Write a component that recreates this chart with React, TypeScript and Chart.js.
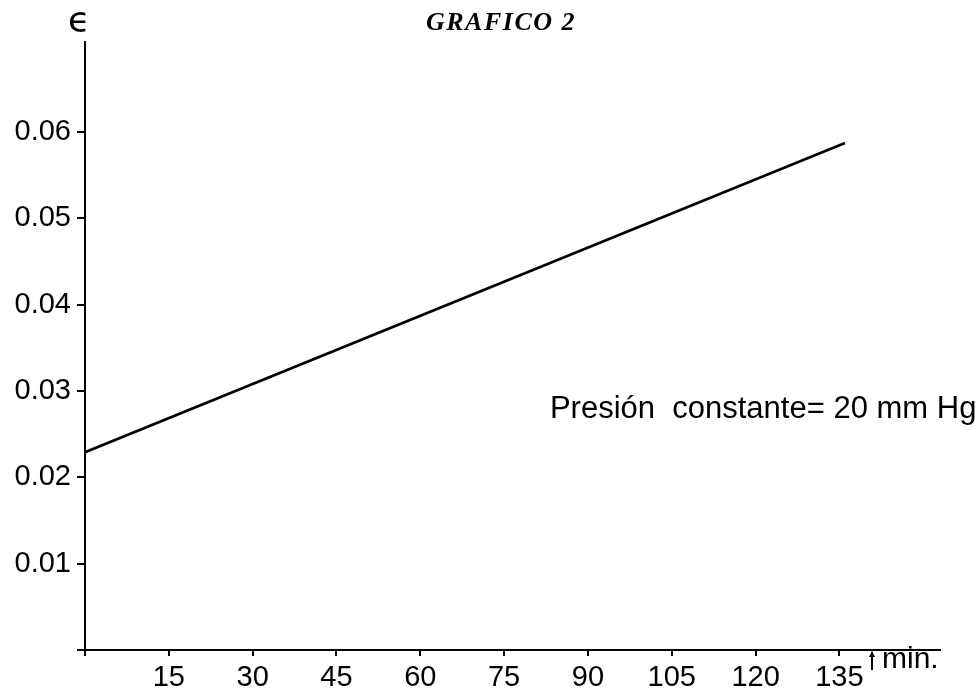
import React, { useEffect, useRef } from "react";
import { Chart, registerables } from "chart.js";

Chart.register(...registerables);

// ---- data ----
const timeMin = [0, 136];
const epsilon = [0.0229, 0.0587];
const xTickValues = [0, 15, 30, 45, 60, 75, 90, 105, 120, 135];
const xTickLabels = ["", "15", "30", "45", "60", "75", "90", "105", "120", "135"];
const yTickValues = [0, 0.01, 0.02, 0.03, 0.04, 0.05, 0.06];
const yTickLabels = ["", "0.01", "0.02", "0.03", "0.04", "0.05", "0.06"];
const titleText = "GRAFICO 2";
const yAxisSymbol = "ϵ";
const noteText = "Presión  constante= 20 mm Hg";
const noteAt = { x: 83.2, y: 0.0279 };
const xUnitText = "min.";

const W = 979;
const H = 691;

const textPlugin = {
  id: "annotations",
  afterDraw(chart: any) {
    const ctx = chart.ctx as CanvasRenderingContext2D;
    const xs = chart.scales.x;
    const ys = chart.scales.y;
    const area = chart.chartArea;
    ctx.save();
    ctx.fillStyle = "#000";
    ctx.strokeStyle = "#000";

    // title
    ctx.font = "italic bold 26px 'Liberation Serif'";
    (ctx as any).letterSpacing = "1.5px";
    ctx.textAlign = "center";
    ctx.textBaseline = "middle";
    ctx.fillText(titleText, 501, 23);
    (ctx as any).letterSpacing = "0px";

    // y axis symbol
    ctx.font = "36px 'DejaVu Sans'";
    ctx.textAlign = "center";
    ctx.fillText(yAxisSymbol, area.left - 6, 23);

    // note
    ctx.font = "31px 'Liberation Sans'";
    ctx.textAlign = "left";
    ctx.fillText(noteText, xs.getPixelForValue(noteAt.x), ys.getPixelForValue(noteAt.y));

    // x unit with small arrow
    const ux = area.right - 68;
    ctx.lineWidth = 2;
    ctx.beginPath();
    ctx.moveTo(ux, area.bottom + 2);
    ctx.lineTo(ux, area.bottom + 20);
    ctx.stroke();
    ctx.beginPath();
    ctx.moveTo(ux - 3, area.bottom + 7);
    ctx.lineTo(ux, area.bottom + 1);
    ctx.lineTo(ux + 3, area.bottom + 7);
    ctx.closePath();
    ctx.fill();
    ctx.font = "30px 'Liberation Sans'";
    ctx.fillText(xUnitText, ux + 10, area.bottom + 10);
    ctx.restore();
  },
};

export default function App() {
  const ref = useRef<HTMLCanvasElement | null>(null);
  useEffect(() => {
    if (!ref.current) return;
    const tickFont = { family: "'Liberation Sans'", size: 29 };
    const chart = new Chart(ref.current, {
      type: "scatter",
      data: {
        datasets: [
          {
            data: timeMin.map((x, i) => ({ x, y: epsilon[i] })),
            showLine: true,
            borderColor: "#000",
            borderWidth: 2.6,
            pointRadius: 0,
            tension: 0,
          },
        ],
      },
      options: {
        responsive: false,
        animation: false,
        layout: { padding: { top: 42, right: 39, left: 0, bottom: 0 } },
        plugins: { legend: { display: false }, tooltip: { enabled: false }, title: { display: false } },
        scales: {
          x: {
            type: "linear",
            min: 0,
            max: 153,
            afterBuildTicks: (s: any) => {
              s.ticks = xTickValues.map((v) => ({ value: v }));
            },
            afterFit: (s: any) => {
              s.height = 41;
            },
            ticks: {
              autoSkip: false,
              maxRotation: 0,
              color: "#000",
              font: tickFont,
              padding: 5,
              callback: (_v: any, i: number) => xTickLabels[i],
            },
            grid: { drawOnChartArea: false, drawTicks: true, tickLength: 6, color: "#000", lineWidth: 2 },
            border: { display: true, color: "#000", width: 2 },
          },
          y: {
            type: "linear",
            min: 0,
            max: 0.0704,
            afterBuildTicks: (s: any) => {
              s.ticks = yTickValues.map((v) => ({ value: v }));
            },
            afterFit: (s: any) => {
              s.width = 85;
            },
            ticks: {
              autoSkip: false,
              color: "#000",
              font: tickFont,
              padding: 6,
              callback: (_v: any, i: number) => yTickLabels[i],
            },
            grid: { drawOnChartArea: false, drawTicks: true, tickLength: 8, color: "#000", lineWidth: 2 },
            border: { display: true, color: "#000", width: 2 },
          },
        },
      },
      plugins: [textPlugin],
    } as any);
    return () => chart.destroy();
  }, []);
  return (
    <div style={{ position: "absolute", left: 0, top: 0, width: W, height: H, background: "#fff" }}>
      <canvas ref={ref} width={W} height={H} style={{ display: "block" }} />
    </div>
  );
}
